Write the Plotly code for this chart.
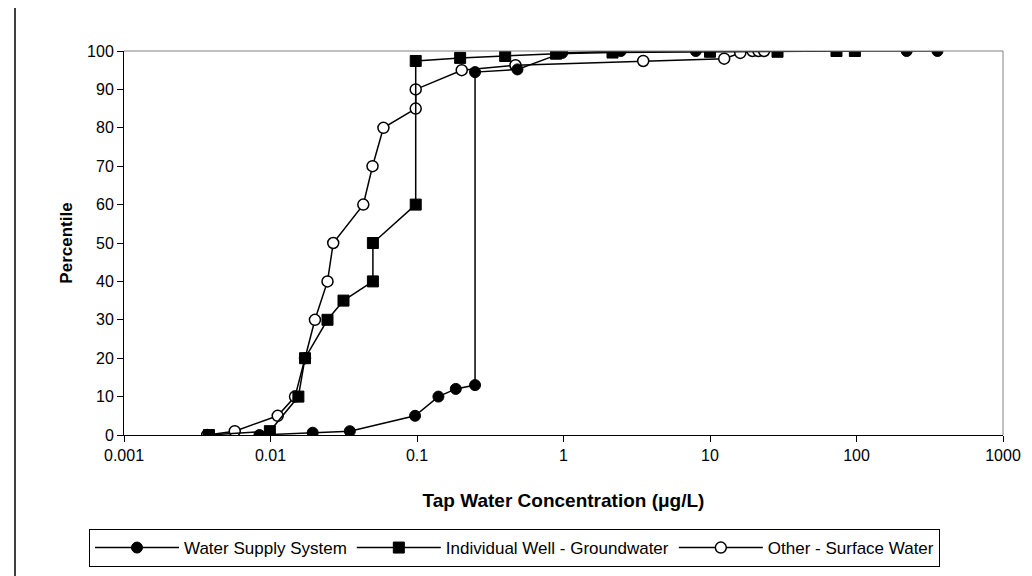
import plotly.graph_objects as go

# ---- data ----
water_x = [0.0084, 0.0194, 0.0348, 0.097, 0.14, 0.184, 0.249, 0.249, 0.485, 0.98, 2.46, 8.0, 220, 357]
water_y = [0, 0.6, 1, 5, 10, 12, 13, 94.5, 95.2, 99.5, 100, 100, 100, 100]

well_x = [0.0038, 0.0099, 0.0155, 0.0172, 0.0245, 0.0315, 0.05, 0.05, 0.098, 0.098,
          0.197, 0.40, 0.89, 2.16, 10.0, 28.9, 73, 97.5]
well_y = [0, 1, 10, 20, 30, 35, 40, 50, 60, 97.4, 98.2, 98.7, 99.3, 99.6, 99.8, 99.8, 100, 100]

other_x = [0.0037, 0.0057, 0.0112, 0.0147, 0.0172, 0.0201, 0.0245, 0.0268, 0.043, 0.0497,
           0.059, 0.098, 0.098, 0.202, 0.47, 3.5, 12.5, 16.1, 19.5, 21.4, 23.4]
other_y = [0, 1, 5, 10, 20, 30, 40, 50, 60, 70, 80, 85, 90, 95, 96.3, 97.4, 98, 99.5, 100, 100, 100]

x_tickvals = [0.001, 0.01, 0.1, 1, 10, 100, 1000]
x_ticktext = ["0.001", "0.01", "0.1", "1", "10", "100", "1000"]
y_tickvals = [0, 10, 20, 30, 40, 50, 60, 70, 80, 90, 100]

FONT = "Liberation Sans, Arial, sans-serif"
W, H = 1032, 576
L, R, T, B = 116, 37, 43, 149
PW, PH = W - L - R, H - T - B


def px_x(x):
    return (x - L) / PW


def px_y(y):
    return (H - B - y) / PH


fig = go.Figure()

fig.add_trace(go.Scatter(
    x=other_x, y=other_y, mode="lines+markers", name="Other - Surface Water",
    line=dict(color="black", width=1.5),
    marker=dict(symbol="circle", size=11, color="white", line=dict(color="black", width=1.5)),
))
fig.add_trace(go.Scatter(
    x=well_x, y=well_y, mode="lines+markers", name="Individual Well - Groundwater",
    line=dict(color="black", width=1.5),
    marker=dict(symbol="square", size=11, color="black", line=dict(color="black", width=1)),
))
fig.add_trace(go.Scatter(
    x=water_x, y=water_y, mode="lines+markers", name="Water Supply System",
    line=dict(color="black", width=1.5),
    marker=dict(symbol="circle", size=11, color="black", line=dict(color="black", width=1)),
))

# plot-area border (top and right in gray)
fig.add_shape(type="line", xref="paper", yref="paper", x0=0, x1=1, y0=1, y1=1,
              line=dict(color="#808080", width=1))
fig.add_shape(type="line", xref="paper", yref="paper", x0=1, x1=1, y0=0, y1=1,
              line=dict(color="#808080", width=1))
# outer chart border (left edge visible)
fig.add_shape(type="line", xref="paper", yref="paper",
              x0=px_x(7), x1=px_x(7), y0=px_y(576), y1=px_y(0),
              line=dict(color="black", width=1.5), layer="below")

fig.update_layout(
    width=W, height=H,
    margin=dict(l=L, r=R, t=T, b=B, autoexpand=False),
    paper_bgcolor="white", plot_bgcolor="white",
    font=dict(family=FONT, color="black", size=15),
    showlegend=True,
    legend=dict(
        orientation="h", traceorder="reversed",
        x=px_x(81), y=px_y(521), xanchor="left", yanchor="top",
        bordercolor="black", borderwidth=1, bgcolor="white",
        font=dict(family=FONT, size=17, color="black"),
        itemwidth=84,
    ),
)

fig.update_xaxes(
    type="log", range=[-3, 3],
    tickvals=x_tickvals, ticktext=x_ticktext,
    showgrid=False, zeroline=False,
    showline=True, linecolor="black", linewidth=1,
    ticks="outside", ticklen=6, tickcolor="black", tickwidth=1,
    tickfont=dict(family=FONT, size=16),
    title=dict(text="<b>Tap Water Concentration (μg/L)</b>", font=dict(family=FONT, size=19), standoff=30),
)
fig.update_yaxes(
    range=[0, 100],
    tickvals=y_tickvals,
    showgrid=False, zeroline=False,
    showline=True, linecolor="black", linewidth=1,
    ticks="outside", ticklen=6, tickcolor="black", tickwidth=1,
    tickfont=dict(family=FONT, size=16),
    title=dict(text="<b>Percentile</b>", font=dict(family=FONT, size=17), standoff=10),
)

fig.write_html("out.html")
